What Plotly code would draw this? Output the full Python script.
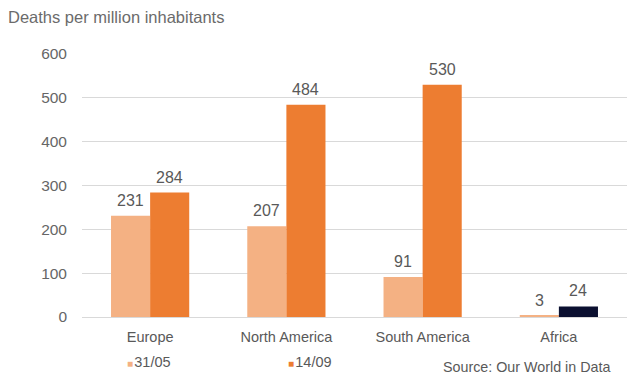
import plotly.graph_objects as go

# Deaths per million inhabitants by continent, two reporting dates
regions = ["Europe", "North America", "South America", "Africa"]
series_names = ["31/05", "14/09"]
deaths_may = [231, 207, 91, 3]
deaths_sep = [284, 484, 530, 24]

light_orange = "#F4B183"
dark_orange = "#ED7D31"
navy = "#0B1030"
sep_colors = [dark_orange, dark_orange, dark_orange, navy]

FONT = "Liberation Sans, Arial, sans-serif"
GREY = "#595959"

fig = go.Figure()
fig.add_trace(go.Bar(
    x=regions, y=deaths_may, name=series_names[0],
    marker=dict(color=light_orange, line=dict(width=0)),
))
fig.add_trace(go.Bar(
    x=regions, y=deaths_sep, name=series_names[1],
    marker=dict(color=sep_colors, line=dict(width=0)),
))

annotations = []
# Value labels above each bar (offset half a bar width left/right of the category centre)
half_bar = 19.5
for values, shift in ((deaths_may, -half_bar), (deaths_sep, half_bar)):
    for region, v in zip(regions, values):
        annotations.append(dict(
            x=region, y=v, xref="x", yref="y", xshift=shift, yshift=5,
            xanchor="center", yanchor="bottom", showarrow=False,
            text=str(v), font=dict(family=FONT, size=16, color=GREY),
        ))

# Legend drawn as text entries with coloured square glyphs
legend_entries = [
    (series_names[0], light_orange, 0.079),
    (series_names[1], dark_orange, 0.374),
]
for name, color, xpos in legend_entries:
    annotations.append(dict(
        xref="paper", yref="paper", x=xpos, y=-0.172,
        xanchor="left", yanchor="middle", showarrow=False,
        text=f"<span style='color:{color};font-size:10px'>■</span>&#8202;{name}",
        font=dict(family=FONT, size=14.5, color=GREY),
    ))
annotations.append(dict(
    xref="paper", yref="paper", x=0.973, y=-0.19,
    xanchor="right", yanchor="middle", showarrow=False,
    text="Source: Our World in Data",
    font=dict(family=FONT, size=14.3, color=GREY),
))
annotations.append(dict(
    xref="paper", yref="paper", x=-0.14, y=1.14,
    xanchor="left", yanchor="middle", showarrow=False,
    text="Deaths per million inhabitants",
    font=dict(family=FONT, size=16.5, color="#6b6b6b"),
))

fig.update_layout(
    width=633, height=376,
    margin=dict(l=82, r=6, t=54, b=59),
    paper_bgcolor="white", plot_bgcolor="white",
    barmode="group", bargap=0.426, bargroupgap=0,
    showlegend=False,
    annotations=annotations,
    font=dict(family=FONT, color=GREY),
    xaxis=dict(
        showgrid=False, showline=False, ticks="", ticklabelstandoff=9,
        tickfont=dict(size=14.5, color=GREY),
    ),
    yaxis=dict(
        range=[0, 600], dtick=100, showgrid=True, gridcolor="#D9D9D9", gridwidth=1,
        zeroline=True, zerolinecolor="#D9D9D9", zerolinewidth=1,
        showline=False, ticks="", ticklabelstandoff=14,
        tickfont=dict(size=15.5, color="#666666"),
    ),
)

fig.write_html("out.html")
